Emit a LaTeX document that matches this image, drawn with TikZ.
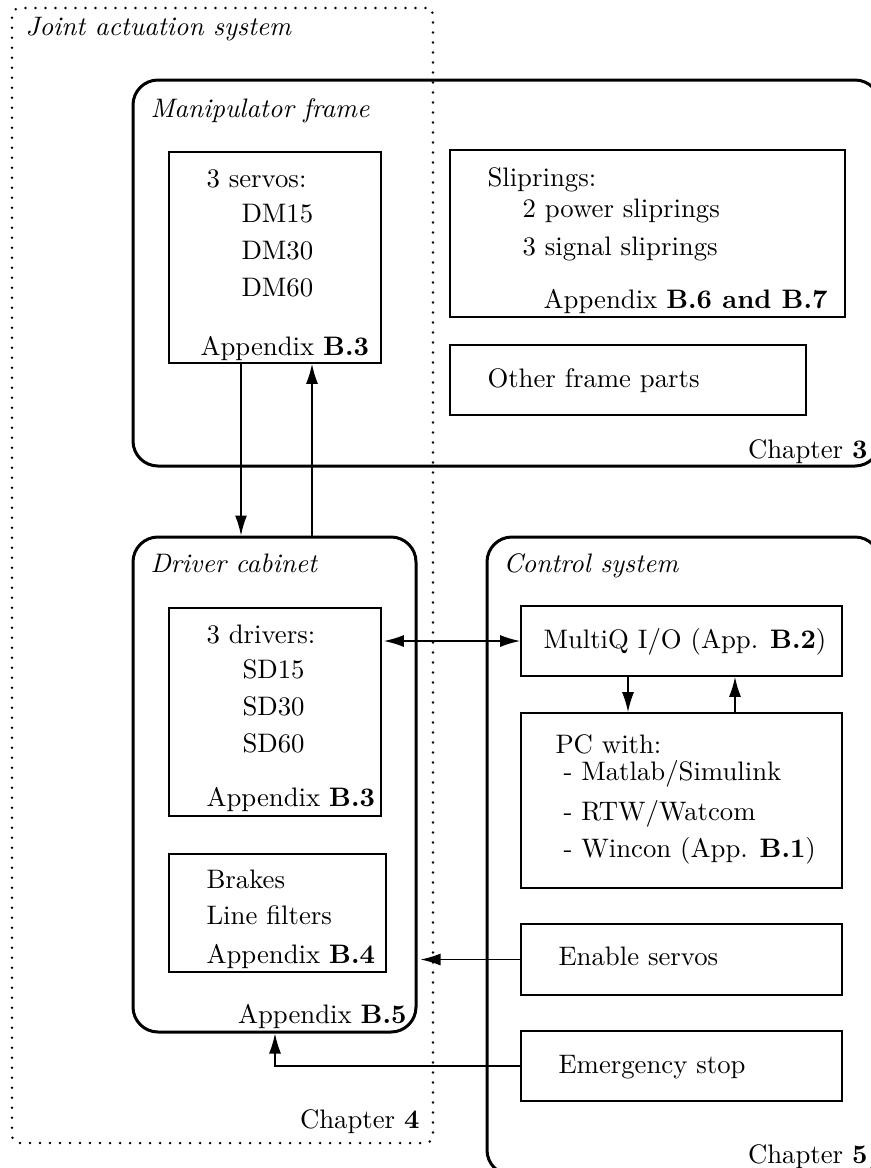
\documentclass[tikz,border=0pt]{standalone}
\usetikzlibrary{arrows.meta,fit}
\begin{document}
\fontsize{10.7}{13}\selectfont
\begin{tikzpicture}[x=0.4pt,y=-0.4pt,
  txt/.style={inner sep=0pt, anchor=base west},
  rtxt/.style={inner sep=0pt, anchor=base east},
  box/.style={draw, line width=0.7pt, inner sep=0pt},
  group/.style={draw, line width=1.2pt, rounded corners=10pt, inner sep=0pt},
  realm/.style={draw, line width=1.1pt, dash pattern=on 0pt off 4pt, line cap=round, rounded corners=3pt, inner sep=0pt},
  arr/.style={line width=0.6pt, -{Latex[length=8pt,width=4.8pt]}},
  darr/.style={line width=0.6pt, {Latex[length=8pt,width=4.8pt]}-{Latex[length=8pt,width=4.8pt]}}]
\useasboundingbox (0,0) rectangle (871,1168);
\clip (0,0) rectangle (871,1168);

% outer dotted region
\node[realm, fit={(12,8) (433,1143)}] (jas) {};
\node[txt, font=\itshape] (jasl) at (25,35) {Joint actuation system};
\node[rtxt] (ch4) at (420,1128) {Chapter \textbf{4}};

% manipulator frame
\node[group, fit={(133,80) (880,466)}] (frame) {};
\node[txt, font=\itshape] (framel) at (150,117) {Manipulator frame};
\node[box, fit={(169,152) (381,363)}] (servo) {};
\node[txt] (s0) at (206,187) {3 servos:};
\node[txt] (s1) at (241,222) {DM15};
\node[txt] (s2) at (241,259) {DM30};
\node[txt] (s3) at (241,296) {DM60};
\node[txt] (s4) at (200,355) {Appendix \textbf{B.3}};
\node[box, fit={(450,150) (845,317)}] (slip) {};
\node[txt] (p0) at (487,186) {Sliprings:};
\node[txt] (p1) at (522,217) {2 power sliprings};
\node[txt] (p2) at (522,255) {3 signal sliprings};
\node[rtxt] (p3) at (828,308) {Appendix \textbf{B.6 and B.7}};
\node[box, fit={(450,345) (806,415)}] (other) {};
\node[txt] (o0) at (487,387) {Other frame parts};
\node[rtxt] (ch3) at (868,458) {Chapter \textbf{3}};

% driver cabinet
\node[group, fit={(133,537) (416,1032)}] (cab) {};
\node[txt, font=\itshape] (cabl) at (150,572) {Driver cabinet};
\node[box, fit={(169,608) (381,816)}] (drv) {};
\node[txt] (d0) at (206,643) {3 drivers:};
\node[txt] (d1) at (242,678) {SD15};
\node[txt] (d2) at (242,715) {SD30};
\node[txt] (d3) at (242,752) {SD60};
\node[txt] (d4) at (206,806) {Appendix \textbf{B.3}};
\node[box, fit={(169,854) (386,972)}] (brk) {};
\node[txt] (b0) at (206,888) {Brakes};
\node[txt] (b1) at (206,924) {Line filters};
\node[txt] (b2) at (206,963) {Appendix \textbf{B.4}};
\node[rtxt] (b5) at (407,1023) {Appendix \textbf{B.5}};

% control system
\node[group, fit={(487,537) (880,1175)}] (ctrl) {};
\node[txt, font=\itshape] (ctrll) at (503,572) {Control system};
\node[box, fit={(521,606) (842,676)}] (mq) {};
\node[txt] (m0) at (543,648) {MultiQ I/O (App. \textbf{B.2})};
\node[box, fit={(521,713) (842,888)}] (pc) {};
\node[txt] (c0) at (555,753) {PC with:};
\node[txt] (c1) at (563,780) {- Matlab/Simulink};
\node[txt] (c2) at (563,820) {- RTW/Watcom};
\node[txt] (c3) at (563,857) {- Wincon (App. \textbf{B.1})};
\node[box, fit={(521,924) (842,995)}] (en) {};
\node[txt] (e0) at (558,965) {Enable servos};
\node[box, fit={(521,1031) (842,1101)}] (em) {};
\node[txt] (e1) at (558,1073) {Emergency stop};
\node[rtxt] (ch5) at (868,1163) {Chapter \textbf{5}};

% connector columns
\coordinate (xd) at (241,0);
\coordinate (xu) at (312,0);
\coordinate (xa) at (628,0);
\coordinate (xb) at (735,0);
\coordinate (xe) at (275,0);

\draw[arr] (servo.south -| xd) -- (cab.north -| xd);
\draw[arr] (cab.north -| xu) -- (servo.south -| xu);
\draw[darr] (mq.west) -- ([xshift=0.8pt]mq.west -| drv.east);
\draw[arr] (mq.south -| xa) -- (pc.north -| xa);
\draw[arr] (pc.north -| xb) -- (mq.south -| xb);
\draw[arr] (en.west) -- ([xshift=1.2pt]en.west -| cab.east);
\draw[arr] (em.west) -| (cab.south -| xe);
\end{tikzpicture}
\end{document}
